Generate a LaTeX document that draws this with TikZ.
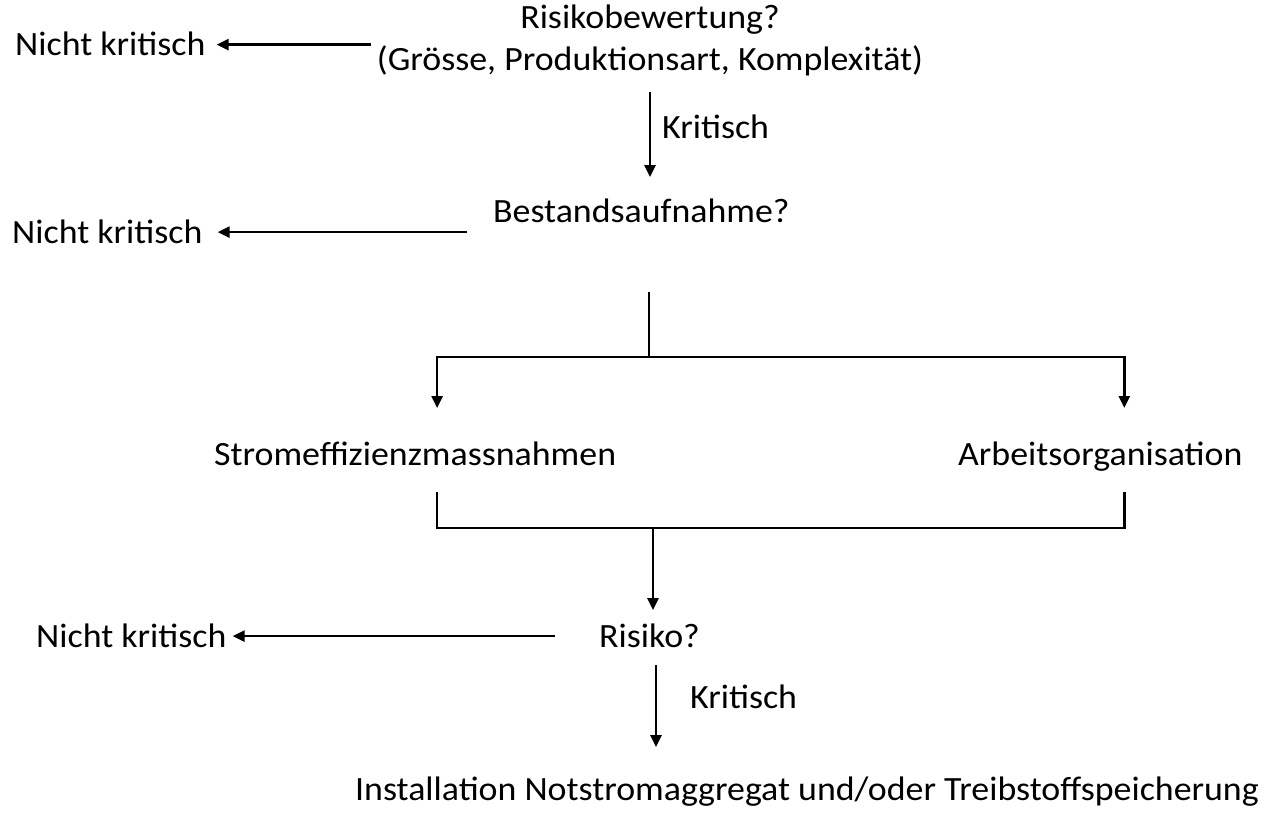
\documentclass[tikz,border=0pt]{standalone}
\usepackage{fontspec}
\setmainfont{Carlito}[FakeStretch=1.055]
\usetikzlibrary{arrows.meta}
\begin{document}
\begin{tikzpicture}[x=1pt,y=-1pt,
  txt/.style={inner sep=0pt, font=\fontsize{34}{42}\selectfont},
  lbl/.style={txt, text height=21.8pt, text depth=0pt, anchor=base west},
  arr/.style={line width=2.6pt, -{Triangle[length=12pt,width=11pt]}},
  ln/.style={line width=2.6pt}]
\useasboundingbox (0,0) rectangle (1267,817);
% texts
\node[txt, align=center, anchor=base] (q1) at (650,70)
  {Risikobewertung?\\(Grösse, Produktionsart, Komplexität)};
\node[lbl] (nk1) at (15,55.5) {Nicht kritisch};
\node[lbl] (k1) at (662,138) {Kritisch};
\node[lbl] (q2) at (493,222) {Bestandsaufnahme?};
\node[lbl] (nk2) at (12,243) {Nicht kritisch};
\node[lbl] (m1) at (214,465) {Stromeffizienzmassnahmen};
\node[lbl] (m2) at (958,465) {Arbeitsorganisation};
\node[lbl] (q3) at (599,647) {Risiko?};
\node[lbl] (nk3) at (36,647) {Nicht kritisch};
\node[lbl] (k2) at (690,708) {Kritisch};
\node[lbl] (res) at (355,800) {Installation Notstromaggregat und/oder Treibstoffspeicherung};
% branch and merge points
\coordinate (split) at (649,357);
\coordinate (join) at (653,528);
% connectors
\draw[arr, shorten <=6pt, shorten >=11pt] (q1.west |- nk1.east) -- (nk1.east);
\draw[arr, shorten <=16pt, shorten >=23pt] (q1.south) -- (q1.south |- q2.north);
\draw[arr, shorten <=26pt, shorten >=15pt] (q2.west |- nk2.east) -- (nk2.east);
\draw[ln, shorten <=70pt] (split |- q2.south) -- (split);
\draw[arr, shorten >=35pt] (split) -| ([xshift=22pt]m1.north);
\draw[arr, shorten >=35pt] (split) -| ([xshift=24pt]m2.north);
\draw[ln, shorten <=27pt] ([xshift=22pt]m1.south) |- (join);
\draw[ln, shorten <=27pt] ([xshift=24pt]m2.south) |- (join);
\draw[arr, shorten >=15pt] (join) -- (join |- q3.north);
\draw[arr, shorten <=44pt, shorten >=6pt] (q3.west) -- (nk3.east);
\draw[arr, shorten <=18pt, shorten >=31pt] ([xshift=3pt]join |- q3.south) -- ([xshift=3pt]join |- res.north);
\end{tikzpicture}
\end{document}
